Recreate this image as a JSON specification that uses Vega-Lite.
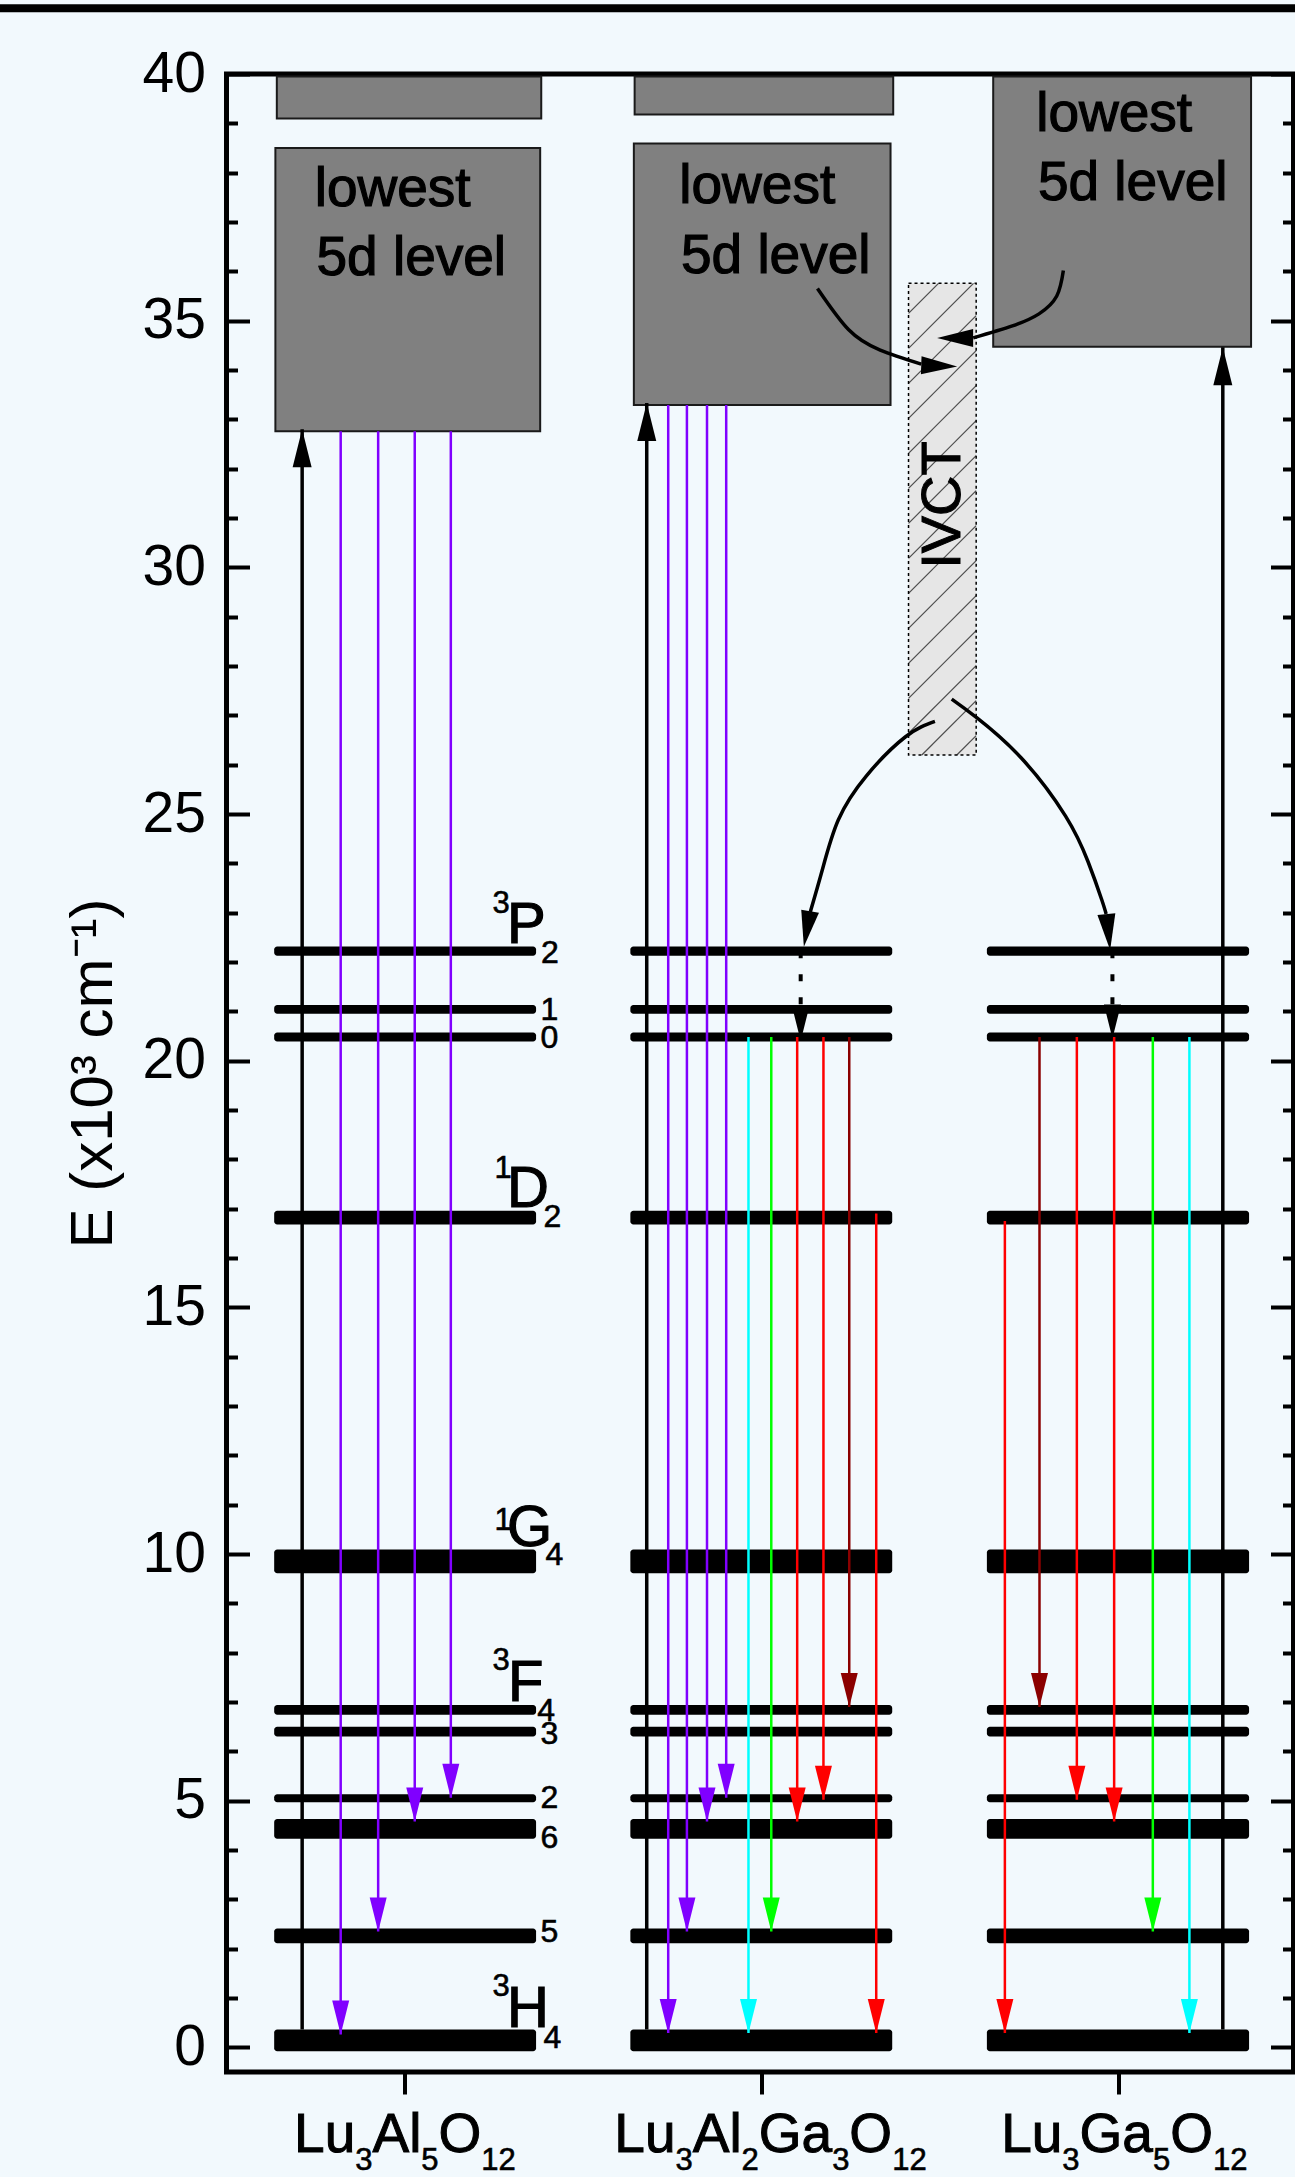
{
  "$schema": "https://vega.github.io/schema/vega-lite/v6.json",
  "width": 1067,
  "height": 1998,
  "autosize": {"type": "none"},
  "padding": {"left": 226.5, "top": 74, "right": 1.5, "bottom": 105},
  "background": "#f2f9fd",
  "view": {"stroke": "#000000", "strokeWidth": 5},
  "config": {
    "font": "Liberation Sans",
    "axis": {"grid": false, "labelFont": "Liberation Sans", "titleFont": "Liberation Sans", "labelColor": "#000000", "titleColor": "#000000", "tickColor": "#000000", "titleFontWeight": "normal", "domain": false, "labelLimit": 1000}
  },
  "datasets": {
    "frameTop": [{"x": -0.5, "x2": 4.5, "y": 41.335}],
    "levels": [
      {"x": 0.6336, "x2": 1.3675, "y": 22.126, "y2": 22.314},
      {"x": 0.6336, "x2": 1.3675, "y": 20.95, "y2": 21.13},
      {"x": 0.6336, "x2": 1.3675, "y": 20.39, "y2": 20.57},
      {"x": 0.6336, "x2": 1.3675, "y": 16.68, "y2": 16.96},
      {"x": 0.6336, "x2": 1.3675, "y": 9.61, "y2": 10.09},
      {"x": 0.6336, "x2": 1.3675, "y": 6.74, "y2": 6.94},
      {"x": 0.6336, "x2": 1.3675, "y": 6.3, "y2": 6.5},
      {"x": 0.6336, "x2": 1.3675, "y": 4.97, "y2": 5.13},
      {"x": 0.6336, "x2": 1.3675, "y": 4.23, "y2": 4.63},
      {"x": 0.6336, "x2": 1.3675, "y": 2.11, "y2": 2.41},
      {"x": 0.6336, "x2": 1.3675, "y": -0.08, "y2": 0.36},
      {"x": 1.6317, "x2": 2.3655, "y": 22.126, "y2": 22.314},
      {"x": 1.6317, "x2": 2.3655, "y": 20.95, "y2": 21.13},
      {"x": 1.6317, "x2": 2.3655, "y": 20.39, "y2": 20.57},
      {"x": 1.6317, "x2": 2.3655, "y": 16.68, "y2": 16.96},
      {"x": 1.6317, "x2": 2.3655, "y": 9.61, "y2": 10.09},
      {"x": 1.6317, "x2": 2.3655, "y": 6.74, "y2": 6.94},
      {"x": 1.6317, "x2": 2.3655, "y": 6.3, "y2": 6.5},
      {"x": 1.6317, "x2": 2.3655, "y": 4.97, "y2": 5.13},
      {"x": 1.6317, "x2": 2.3655, "y": 4.23, "y2": 4.63},
      {"x": 1.6317, "x2": 2.3655, "y": 2.11, "y2": 2.41},
      {"x": 1.6317, "x2": 2.3655, "y": -0.08, "y2": 0.36},
      {"x": 2.6308, "x2": 3.3655, "y": 22.126, "y2": 22.314},
      {"x": 2.6308, "x2": 3.3655, "y": 20.95, "y2": 21.13},
      {"x": 2.6308, "x2": 3.3655, "y": 20.39, "y2": 20.57},
      {"x": 2.6308, "x2": 3.3655, "y": 16.68, "y2": 16.96},
      {"x": 2.6308, "x2": 3.3655, "y": 9.61, "y2": 10.09},
      {"x": 2.6308, "x2": 3.3655, "y": 6.74, "y2": 6.94},
      {"x": 2.6308, "x2": 3.3655, "y": 6.3, "y2": 6.5},
      {"x": 2.6308, "x2": 3.3655, "y": 4.97, "y2": 5.13},
      {"x": 2.6308, "x2": 3.3655, "y": 4.23, "y2": 4.63},
      {"x": 2.6308, "x2": 3.3655, "y": 2.11, "y2": 2.41},
      {"x": 2.6308, "x2": 3.3655, "y": -0.08, "y2": 0.36}
    ],
    "boxes": [
      {"x": 0.641, "x2": 1.382, "y": 39.1, "y2": 39.95},
      {"x": 0.637, "x2": 1.379, "y": 32.76, "y2": 38.5},
      {"x": 1.6437, "x2": 2.3683, "y": 39.18, "y2": 39.95},
      {"x": 1.6415, "x2": 2.3608, "y": 33.29, "y2": 38.59},
      {"x": 2.6485, "x2": 3.3711, "y": 34.47, "y2": 39.95}
    ],
    "ivct": [{"x": 2.4112, "x2": 2.6008, "y": 26.196, "y2": 35.756, "t": "IVCT", "tx": 2.507, "ty": 31.263}],
    "hatch": [
      {"x": 2.4112, "y": 35.148, "x2": 2.4952, "y2": 35.756},
      {"x": 2.4112, "y": 34.439, "x2": 2.5933, "y2": 35.756},
      {"x": 2.4112, "y": 33.729, "x2": 2.6008, "y2": 35.101},
      {"x": 2.4112, "y": 33.02, "x2": 2.6008, "y2": 34.392},
      {"x": 2.4112, "y": 32.311, "x2": 2.6008, "y2": 33.682},
      {"x": 2.4112, "y": 31.601, "x2": 2.6008, "y2": 32.973},
      {"x": 2.4112, "y": 30.892, "x2": 2.6008, "y2": 32.264},
      {"x": 2.4112, "y": 30.182, "x2": 2.6008, "y2": 31.555},
      {"x": 2.4112, "y": 29.473, "x2": 2.6008, "y2": 30.845},
      {"x": 2.4112, "y": 28.764, "x2": 2.6008, "y2": 30.136},
      {"x": 2.4112, "y": 28.054, "x2": 2.6008, "y2": 29.426},
      {"x": 2.4112, "y": 27.345, "x2": 2.6008, "y2": 28.717},
      {"x": 2.4112, "y": 26.636, "x2": 2.6008, "y2": 28.008},
      {"x": 2.4485, "y": 26.196, "x2": 2.6008, "y2": 27.298},
      {"x": 2.5465, "y": 26.196, "x2": 2.6008, "y2": 26.589}
    ],
    "boxText": [
      {"x": 0.7473, "y": 37.323, "t": "lowest"},
      {"x": 0.7521, "y": 35.924, "t": "5d level"},
      {"x": 1.7689, "y": 37.39, "t": "lowest"},
      {"x": 1.7734, "y": 35.971, "t": "5d level"},
      {"x": 2.7689, "y": 38.849, "t": "lowest"},
      {"x": 2.7737, "y": 37.444, "t": "5d level"}
    ],
    "arrows": [
      {"x": 0.712, "y": 0.36, "y2": 32.8, "k": "black"},
      {"x": 0.82, "y": 32.76, "y2": 0.26, "k": "violet"},
      {"x": 0.925, "y": 32.76, "y2": 2.35, "k": "violet"},
      {"x": 1.0275, "y": 32.76, "y2": 4.58, "k": "violet"},
      {"x": 1.1286, "y": 32.76, "y2": 5.06, "k": "violet"},
      {"x": 1.6776, "y": 0.36, "y2": 33.33, "k": "black"},
      {"x": 1.7378, "y": 33.29, "y2": 0.29, "k": "violet"},
      {"x": 1.7902, "y": 33.29, "y2": 2.35, "k": "violet"},
      {"x": 1.8465, "y": 33.29, "y2": 4.58, "k": "violet"},
      {"x": 1.9003, "y": 33.29, "y2": 5.06, "k": "violet"},
      {"x": 1.9627, "y": 20.48, "y2": 0.29, "k": "cyan"},
      {"x": 2.0266, "y": 20.48, "y2": 2.35, "k": "green"},
      {"x": 2.0992, "y": 20.48, "y2": 4.58, "k": "red"},
      {"x": 2.1728, "y": 20.48, "y2": 5.02, "k": "red"},
      {"x": 2.2451, "y": 20.48, "y2": 6.9, "k": "darkred"},
      {"x": 2.3207, "y": 16.9, "y2": 0.29, "k": "red"},
      {"x": 2.6812, "y": 16.75, "y2": 0.29, "k": "red"},
      {"x": 2.7782, "y": 20.48, "y2": 6.9, "k": "darkred"},
      {"x": 2.8829, "y": 20.48, "y2": 5.02, "k": "red"},
      {"x": 2.9874, "y": 20.48, "y2": 4.58, "k": "red"},
      {"x": 3.0958, "y": 20.48, "y2": 2.35, "k": "green"},
      {"x": 3.1983, "y": 20.48, "y2": 0.29, "k": "cyan"},
      {"x": 3.2919, "y": 0.36, "y2": 34.46, "k": "black"}
    ],
    "dashed": [
      {"x": 2.109, "y": 22.22, "y2": 20.4},
      {"x": 2.9826, "y": 22.22, "y2": 20.45}
    ],
    "curves": [
      {"c": "a", "i": 0, "x": 2.156, "y": 35.652},
      {"c": "a", "i": 1, "x": 2.2429, "y": 34.82},
      {"c": "a", "i": 2, "x": 2.3319, "y": 34.403},
      {"c": "a", "i": 3, "x": 2.4468, "y": 34.12},
      {"c": "b", "i": 0, "x": 2.8451, "y": 36.015},
      {"c": "b", "i": 1, "x": 2.8266, "y": 35.499},
      {"c": "b", "i": 2, "x": 2.7768, "y": 35.138},
      {"c": "b", "i": 3, "x": 2.7022, "y": 34.893},
      {"c": "b", "i": 4, "x": 2.5924, "y": 34.652},
      {"c": "c", "i": 0, "x": 2.4852, "y": 26.877},
      {"c": "c", "i": 1, "x": 2.402, "y": 26.561},
      {"c": "c", "i": 2, "x": 2.2927, "y": 25.77},
      {"c": "c", "i": 3, "x": 2.2143, "y": 24.878},
      {"c": "c", "i": 4, "x": 2.1695, "y": 23.865},
      {"c": "c", "i": 5, "x": 2.1359, "y": 23.014},
      {"c": "d", "i": 0, "x": 2.5322, "y": 27.329},
      {"c": "d", "i": 1, "x": 2.6031, "y": 26.948},
      {"c": "d", "i": 2, "x": 2.7272, "y": 26.135},
      {"c": "d", "i": 3, "x": 2.8513, "y": 24.957},
      {"c": "d", "i": 4, "x": 2.9146, "y": 24.027},
      {"c": "d", "i": 5, "x": 2.9529, "y": 23.257},
      {"c": "d", "i": 6, "x": 2.965, "y": 22.973}
    ],
    "curveHeads": [
      {"x": 2.5476, "y": 34.07, "a": 272},
      {"x": 2.4913, "y": 34.647, "a": 90},
      {"x": 2.1179, "y": 22.31, "a": 10},
      {"x": 2.9762, "y": 22.244, "a": 354}
    ],
    "labels": [
      {"x": 1.2857, "y": 22.379, "t": "P", "r": "main"},
      {"x": 1.2857, "y": 17.035, "t": "D", "r": "main"},
      {"x": 1.2857, "y": 10.154, "t": "G", "r": "main"},
      {"x": 1.2888, "y": 7.023, "t": "F", "r": "main"},
      {"x": 1.2857, "y": 0.403, "t": "H", "r": "main"},
      {"x": 1.2451, "y": 22.993, "t": "3", "r": "sup"},
      {"x": 1.2507, "y": 17.623, "t": "1", "r": "sup"},
      {"x": 1.2507, "y": 10.488, "t": "1", "r": "sup"},
      {"x": 1.2451, "y": 7.641, "t": "3", "r": "sup"},
      {"x": 1.2451, "y": 1.032, "t": "3", "r": "sup"},
      {"x": 1.381, "y": 21.98, "t": "2", "r": "sub"},
      {"x": 1.3796, "y": 20.825, "t": "1", "r": "sub"},
      {"x": 1.3796, "y": 20.257, "t": "0", "r": "sub"},
      {"x": 1.388, "y": 16.636, "t": "2", "r": "sub"},
      {"x": 1.3936, "y": 9.779, "t": "4", "r": "sub"},
      {"x": 1.3711, "y": 6.617, "t": "4", "r": "sub"},
      {"x": 1.3796, "y": 6.151, "t": "3", "r": "sub"},
      {"x": 1.3796, "y": 4.854, "t": "2", "r": "sub"},
      {"x": 1.3796, "y": 4.043, "t": "6", "r": "sub"},
      {"x": 1.3796, "y": 2.126, "t": "5", "r": "sub"},
      {"x": 1.388, "y": -0.01, "t": "4", "r": "sub"}
    ],
    "xlab": [
      {"x": 0.6894, "y": -2.112, "t": "Lu", "r": "main"},
      {"x": 0.8608, "y": -2.483, "t": "3", "r": "sub"},
      {"x": 0.909, "y": -2.112, "t": "Al", "r": "main"},
      {"x": 1.0459, "y": -2.483, "t": "5", "r": "sub"},
      {"x": 1.0941, "y": -2.112, "t": "O", "r": "main"},
      {"x": 1.214, "y": -2.483, "t": "12", "r": "sub"},
      {"x": 1.5868, "y": -2.112, "t": "Lu", "r": "main"},
      {"x": 1.7583, "y": -2.483, "t": "3", "r": "sub"},
      {"x": 1.8064, "y": -2.112, "t": "Al", "r": "main"},
      {"x": 1.9434, "y": -2.483, "t": "2", "r": "sub"},
      {"x": 1.9916, "y": -2.112, "t": "Ga", "r": "main"},
      {"x": 2.1972, "y": -2.483, "t": "3", "r": "sub"},
      {"x": 2.2454, "y": -2.112, "t": "O", "r": "main"},
      {"x": 2.3653, "y": -2.483, "t": "12", "r": "sub"},
      {"x": 2.6709, "y": -2.112, "t": "Lu", "r": "main"},
      {"x": 2.8423, "y": -2.483, "t": "3", "r": "sub"},
      {"x": 2.8905, "y": -2.112, "t": "Ga", "r": "main"},
      {"x": 3.0961, "y": -2.483, "t": "5", "r": "sub"},
      {"x": 3.1443, "y": -2.112, "t": "O", "r": "main"},
      {"x": 3.2641, "y": -2.483, "t": "12", "r": "sub"}
    ]
  },
  "encoding": {
    "x": {"field": "x", "type": "quantitative", "scale": {"domain": [0.5, 3.49], "nice": false, "zero": false},
      "axis": {"values": [1, 2, 3], "labels": false, "tickSize": 22, "tickWidth": 4, "title": null, "zindex": 1}},
    "y": {"field": "y", "type": "quantitative", "scale": {"domain": [-0.5, 40], "nice": false, "zero": false}, "axis": null}
  },
  "resolve": {"axis": {"y": "independent"}},
  "layer": [
    {"data": {"name": "frameTop"}, "mark": {"type": "rule", "color": "#000000", "strokeWidth": 8}, "encoding": {"x2": {"field": "x2"}}},
    {"data": {"name": "levels"}, "mark": {"type": "rect", "color": "#000000", "cornerRadius": 3},
      "encoding": {
        "x2": {"field": "x2"},
        "y": {"field": "y", "type": "quantitative", "axis": {"orient": "left", "values": [0,1,2,3,4,5,6,7,8,9,10,11,12,13,14,15,16,17,18,19,20,21,22,23,24,25,26,27,28,29,30,31,32,33,34,35,36,37,38,39,40], "labelExpr": "datum.value % 5 === 0 ? datum.label : ''", "tickSize": {"condition": {"test": "datum.value % 5 === 0", "value": -23}, "value": -11}, "tickWidth": 4, "labelFontSize": 57, "labelPadding": 44, "labelOverlap": false, "labelFlush": false, "title": "E (x10³ cm⁻¹)", "titleFontSize": 60, "titlePadding": 18, "zindex": 1}},
        "y2": {"field": "y2"}
      }},
    {"data": {"name": "boxes"}, "mark": {"type": "rect", "fill": "#808080", "stroke": "#1a1a1a", "strokeWidth": 2},
      "encoding": {
        "x2": {"field": "x2"},
        "y": {"field": "y", "type": "quantitative", "axis": {"orient": "right", "values": [0,1,2,3,4,5,6,7,8,9,10,11,12,13,14,15,16,17,18,19,20,21,22,23,24,25,26,27,28,29,30,31,32,33,34,35,36,37,38,39,40], "labels": false, "tickSize": {"condition": {"test": "datum.value % 5 === 0", "value": -23}, "value": -11}, "tickWidth": 4, "title": null, "zindex": 1}},
        "y2": {"field": "y2"}
      }},
    {"data": {"name": "ivct"}, "mark": {"type": "rect", "fill": "#e6e6e6"}, "encoding": {"x2": {"field": "x2"}, "y2": {"field": "y2"}}},
    {"data": {"name": "hatch"}, "mark": {"type": "rule", "color": "#4d4d4d", "strokeWidth": 1.2}, "encoding": {"x2": {"field": "x2"}, "y2": {"field": "y2"}}},
    {"data": {"name": "ivct"}, "mark": {"type": "rect", "fill": null, "stroke": "#000000", "strokeWidth": 1.5, "strokeDash": [3, 3]}, "encoding": {"x2": {"field": "x2"}, "y2": {"field": "y2"}}},
    {"data": {"name": "ivct"}, "mark": {"type": "text", "font": "Liberation Sans", "fontSize": 56, "angle": 270, "align": "center", "baseline": "middle", "color": "#000000", "stroke": "#000000", "strokeWidth": 1},
      "encoding": {"x": {"field": "tx", "type": "quantitative"}, "y": {"field": "ty", "type": "quantitative"}, "text": {"field": "t"}}},
    {"data": {"name": "boxText"}, "mark": {"type": "text", "font": "Liberation Sans", "fontSize": 55, "align": "left", "baseline": "alphabetic", "color": "#000000", "stroke": "#000000", "strokeWidth": 1.2}, "encoding": {"text": {"field": "t"}}},
    {"data": {"name": "arrows"}, "transform": [{"filter": "datum.k != 'black'"}], "mark": {"type": "rule", "strokeWidth": 2.5},
      "encoding": {"y2": {"field": "y2"}, "color": {"field": "k", "type": "nominal", "scale": {"domain": ["violet", "cyan", "green", "red", "darkred", "black"], "range": ["#8000ff", "#00ffff", "#00ff00", "#ff0000", "#8b0000", "#000000"]}, "legend": null}}},
    {"data": {"name": "arrows"}, "transform": [{"filter": "datum.k == 'black'"}], "mark": {"type": "rule", "strokeWidth": 3.5, "color": "#000000"}, "encoding": {"y2": {"field": "y2"}}},
    {"data": {"name": "dashed"}, "mark": {"type": "rule", "strokeWidth": 4, "color": "#000000", "strokeDash": [7, 16]}, "encoding": {"y2": {"field": "y2"}}},
    {"data": {"name": "arrows"}, "transform": [{"filter": "datum.k != 'black'"}], "mark": {"type": "point", "shape": "M0,0L-0.25,-1L0.25,-1Z", "filled": true, "opacity": 1, "size": 4624, "strokeWidth": 0},
      "encoding": {"y": {"field": "y2", "type": "quantitative"}, "color": {"field": "k", "type": "nominal", "scale": {"domain": ["violet", "cyan", "green", "red", "darkred", "black"], "range": ["#8000ff", "#00ffff", "#00ff00", "#ff0000", "#8b0000", "#000000"]}, "legend": null}}},
    {"data": {"name": "arrows"}, "transform": [{"filter": "datum.k == 'black'"}], "mark": {"type": "point", "shape": "M0,0L-0.25,-1L0.25,-1Z", "filled": true, "opacity": 1, "size": 5776, "strokeWidth": 0, "angle": 180, "color": "#000000"},
      "encoding": {"y": {"field": "y2", "type": "quantitative"}}},
    {"data": {"name": "dashed"}, "mark": {"type": "point", "shape": "M0,0L-0.25,-1L0.25,-1Z", "filled": true, "opacity": 1, "size": 4624, "strokeWidth": 0, "color": "#000000"},
      "encoding": {"y": {"field": "y2", "type": "quantitative"}}},
    {"data": {"name": "curves"}, "mark": {"type": "line", "interpolate": "natural", "color": "#000000", "strokeWidth": 3.5},
      "encoding": {"detail": {"field": "c"}, "order": {"field": "i", "type": "quantitative"}}},
    {"data": {"name": "curveHeads"}, "mark": {"type": "point", "shape": "M0,0L-0.25,-1L0.25,-1Z", "filled": true, "opacity": 1, "size": 5184, "strokeWidth": 0, "color": "#000000"},
      "encoding": {"angle": {"field": "a", "type": "quantitative", "scale": null}}},
    {"data": {"name": "labels"}, "transform": [{"filter": "datum.r == 'main'"}], "mark": {"type": "text", "font": "Liberation Sans", "fontSize": 58, "align": "left", "baseline": "alphabetic", "color": "#000000", "stroke": "#000000", "strokeWidth": 1.2}, "encoding": {"text": {"field": "t"}}},
    {"data": {"name": "labels"}, "transform": [{"filter": "datum.r == 'sup'"}], "mark": {"type": "text", "font": "Liberation Sans", "fontSize": 31, "align": "left", "baseline": "alphabetic", "color": "#000000", "stroke": "#000000", "strokeWidth": 0.6}, "encoding": {"text": {"field": "t"}}},
    {"data": {"name": "labels"}, "transform": [{"filter": "datum.r == 'sub'"}], "mark": {"type": "text", "font": "Liberation Sans", "fontSize": 32, "align": "left", "baseline": "alphabetic", "color": "#000000", "stroke": "#000000", "strokeWidth": 0.6}, "encoding": {"text": {"field": "t"}}},
    {"data": {"name": "xlab"}, "transform": [{"filter": "datum.r == 'main'"}], "mark": {"type": "text", "font": "Liberation Sans", "fontSize": 55, "align": "left", "baseline": "alphabetic", "color": "#000000", "stroke": "#000000", "strokeWidth": 1}, "encoding": {"text": {"field": "t"}}},
    {"data": {"name": "xlab"}, "transform": [{"filter": "datum.r == 'sub'"}], "mark": {"type": "text", "font": "Liberation Sans", "fontSize": 31, "align": "left", "baseline": "alphabetic", "color": "#000000", "stroke": "#000000", "strokeWidth": 0.6}, "encoding": {"text": {"field": "t"}}}
  ]
}
